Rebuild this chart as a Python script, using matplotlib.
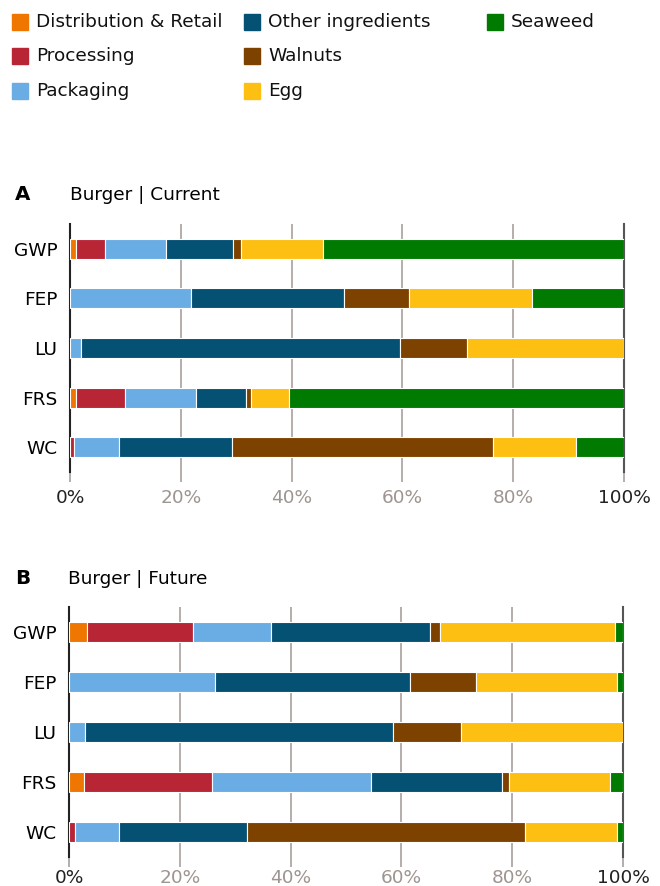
import numpy as np
import matplotlib
matplotlib.use('Agg')
import matplotlib.pyplot as plt
from matplotlib.patches import Rectangle

plt.rcParams['font.family'] = ['DejaVu Sans']

categories = ["GWP", "FEP", "LU", "FRS", "WC"]
components = ["Distribution & Retail", "Processing", "Packaging", "Other ingredients",
              "Walnuts", "Egg", "Seaweed"]
colors = ["#ef7600", "#b82535", "#6aade4", "#045174", "#7d4200", "#fdbf12", "#007a00"]

# share of each stage, %, rows follow categories
dist_cur = [1.1, 0, 0, 1.1, 0]
proc_cur = [5.3, 0, 0, 8.9, 0.7]
pack_cur = [10.9, 21.9, 1.9, 12.8, 8.1]
other_cur = [12.2, 27.6, 57.7, 8.9, 20.5]
walnut_cur = [1.3, 11.7, 12.0, 1.0, 47.0]
egg_cur = [14.8, 22.2, 28.4, 6.9, 15.1]
seaweed_cur = [54.4, 16.6, 0, 60.4, 8.6]

dist_fut = [3.3, 0, 0, 2.7, 0]
proc_fut = [19.0, 0, 0, 23.1, 1.1]
pack_fut = [14.2, 26.4, 2.8, 28.7, 8.0]
other_fut = [28.7, 35.1, 55.6, 23.7, 23.1]
walnut_fut = [1.8, 11.9, 12.4, 1.3, 50.2]
egg_fut = [31.6, 25.6, 29.2, 18.1, 16.6]
seaweed_fut = [1.4, 1.0, 0, 2.4, 1.0]

current = [dist_cur, proc_cur, pack_cur, other_cur, walnut_cur, egg_cur, seaweed_cur]
future = [dist_fut, proc_fut, pack_fut, other_fut, walnut_fut, egg_fut, seaweed_fut]

W, H = 660, 886
FS = 13.3
GRID = "#a89f9b"


def fx(px):
    return px / W


def fy(py):
    return 1 - py / H


def draw_panel(ax, data, pad=5):
    y = np.arange(len(categories))
    left = np.zeros(len(categories))
    for vals, col in zip(data, colors):
        vals = np.array(vals, dtype=float)
        m = vals > 0
        ax.barh(y[m], vals[m], left=left[m], height=0.4, color=col,
                edgecolor="white", linewidth=0.8, zorder=3)
        left += vals
    for g in [20, 40, 60, 80]:
        ax.axvline(g, color=GRID, linewidth=1.2, zorder=1)
    ax.set_xlim(0, 100)
    ax.set_ylim(len(categories) - 0.5, -0.5)
    ax.set_yticks(y)
    ax.set_yticklabels(categories, fontsize=FS)
    ax.tick_params(axis='y', length=0, pad=9)
    ax.set_xticks([0, 20, 40, 60, 80, 100])
    ax.set_xticklabels(["0%", "20%", "40%", "60%", "80%", "100%"], fontsize=FS)
    ax.tick_params(axis='x', length=7, width=1.2, pad=pad, color=GRID)
    for i, lab in enumerate(ax.get_xticklabels()):
        if i in (0, 5):
            lab.set_color("#222222")
        else:
            lab.set_color("#9e9590")
    ticks = ax.xaxis.get_major_ticks()
    ticks[0].tick1line.set_color("#222222")
    ticks[5].tick1line.set_color("#555555")
    for s in ["top", "bottom"]:
        ax.spines[s].set_visible(False)
    ax.spines["left"].set_color("#222222")
    ax.spines["left"].set_linewidth(1.5)
    ax.spines["right"].set_color("#555555")
    ax.spines["right"].set_linewidth(1.5)


fig = plt.figure(figsize=(6.6, 8.86), dpi=100)

axA = fig.add_axes([fx(70), fy(472), fx(624) - fx(70), (472 - 224) / H])
draw_panel(axA, current)
axB = fig.add_axes([fx(69), fy(857), fx(623) - fx(69), (857 - 607) / H])
draw_panel(axB, future, pad=1.5)

fig.text(fx(15), fy(195), "A", fontsize=FS + 1, fontweight="bold", va="center", ha="left")
fig.text(fx(70), fy(195), "Burger | Current", fontsize=FS, va="center", ha="left")
fig.text(fx(15), fy(579), "B", fontsize=FS + 1, fontweight="bold", va="center", ha="left")
fig.text(fx(68), fy(579), "Burger | Future", fontsize=FS, va="center", ha="left")

# legend, column by column
leg_x = [12, 244, 487]
leg_y = [22, 56, 91]
for i, (name, col) in enumerate(zip(components, colors)):
    c, r = divmod(i, 3)
    x0, y0 = leg_x[c], leg_y[r]
    fig.patches.append(Rectangle((fx(x0), fy(y0 + 8)), 16 / W, 16 / H, color=col,
                                 transform=fig.transFigure, figure=fig))
    fig.text(fx(x0 + 24), fy(y0), name, fontsize=FS, va="center", ha="left", color="#111111")

fig.savefig("out.png", dpi=100)
